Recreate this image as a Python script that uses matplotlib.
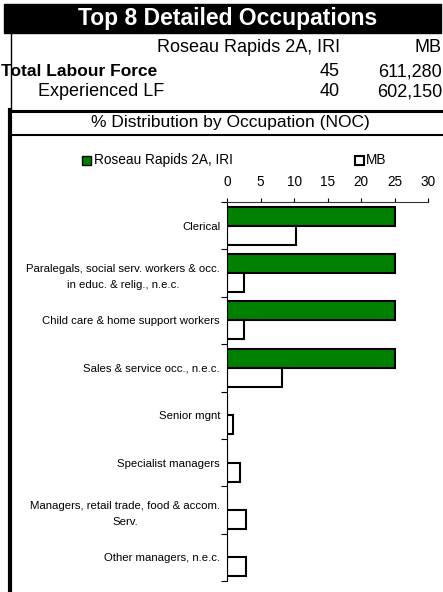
import matplotlib
matplotlib.use("Agg")
import matplotlib.pyplot as plt
from matplotlib.patches import Rectangle
from matplotlib.lines import Line2D

plt.rcParams['font.family'] = ['Liberation Sans', 'DejaVu Sans']

# data
occupations = ["Clerical",
               "Paralegals, social serv. workers & occ.\nin educ. & relig., n.e.c.",
               "Child care & home support workers",
               "Sales & service occ., n.e.c.",
               "Senior mgnt",
               "Specialist managers",
               "Managers, retail trade, food & accom.\nServ.",
               "Other managers, n.e.c."]
area_pct = [25, 25, 25, 25, 0, 0, 0, 0]
mb_pct = [10.3, 2.5, 2.6, 8.2, 0.9, 1.9, 2.8, 2.8]
area_name = "Roseau Rapids 2A, IRI"
region_name = "MB"
labour_force = ["45", "611,280"]
experienced = ["40", "602,150"]

W, H = 443, 592
fig = plt.figure(figsize=(W / 100, H / 100), dpi=100)

def fx(x):
    return x / W

def fy(y):
    return 1 - y / H

def hline(x0, x1, y, lw):
    fig.add_artist(Line2D([fx(x0), fx(x1)], [fy(y), fy(y)], color="black", lw=lw))

def vline(x, y0, y1, lw):
    fig.add_artist(Line2D([fx(x), fx(x)], [fy(y0), fy(y1)], color="black", lw=lw))

# header block
fig.add_artist(Rectangle((fx(4), fy(33)), fx(437), 29 / H, color="black"))
fig.text(fx(228), fy(19), "Top 8 Detailed Occupations", color="white",
         fontsize=16.5, fontweight="bold", ha="center", va="center")
vline(11, 33, 110, 1)
fig.text(fx(340), fy(48), area_name, fontsize=13, ha="right", va="center")
fig.text(fx(442), fy(48), region_name, fontsize=13, ha="right", va="center")
fig.text(fx(1), fy(72), "Total Labour Force", fontsize=12.5, fontweight="bold", ha="left", va="center")
fig.text(fx(340), fy(72), labour_force[0], fontsize=13, ha="right", va="center")
fig.text(fx(442), fy(72), labour_force[1], fontsize=13, ha="right", va="center")
fig.text(fx(38), fy(92), "Experienced LF", fontsize=13, ha="left", va="center")
fig.text(fx(340), fy(92), experienced[0], fontsize=13, ha="right", va="center")
fig.text(fx(442), fy(92), experienced[1], fontsize=13, ha="right", va="center")
hline(10, 443, 110.5, 2.2)
fig.text(fx(230), fy(122), "% Distribution by Occupation (NOC)", fontsize=12.5, ha="center", va="center")
hline(10, 443, 135, 1.5)
vline(10, 110, 592, 3)

# chart
ax = fig.add_axes([fx(227), fy(581), (428 - 227) / W, (581 - 202) / H])
n = len(occupations)
pos = [i + 0.5 for i in range(n)]
ax.barh([p - 0.2 for p in pos], area_pct, height=0.4, color="#008000",
        edgecolor="black", linewidth=1.5, label=area_name)
ax.barh([p + 0.2 for p in pos], mb_pct, height=0.4, color="white",
        edgecolor="black", linewidth=1.5, label=region_name)
ax.set_xlim(0, 30)
ax.set_ylim(n, 0)
ax.xaxis.tick_top()
ax.set_xticks(range(0, 31, 5))
ax.tick_params(axis="x", direction="out", length=3, labelsize=9.8, pad=6)
ax.set_yticks(range(n + 1))
ax.set_yticklabels([])
ax.set_yticks(pos, minor=True)
ax.set_yticklabels(occupations, minor=True, fontsize=8.2)
ax.tick_params(axis="y", which="major", direction="out", length=4)
ax.tick_params(axis="y", which="minor", length=0, pad=5)
for lab in ax.get_yticklabels(minor=True):
    lab.set_multialignment("center")
    lab.set_linespacing(1.7)
ax.spines["right"].set_visible(False)
ax.spines["bottom"].set_visible(False)
ax.spines["top"].set_color("#333333")
ax.spines["left"].set_color("black")

# legend
fig.add_artist(Rectangle((fx(82), fy(165)), 9 / W, 9 / H, facecolor="#008000", edgecolor="black", lw=1))
fig.text(fx(94), fy(160), area_name, fontsize=9.8, ha="left", va="center")
fig.add_artist(Rectangle((fx(355), fy(165)), 9 / W, 9 / H, facecolor="white", edgecolor="black", lw=1.5))
fig.text(fx(366), fy(160), region_name, fontsize=9.8, ha="left", va="center")

fig.savefig("out.png", dpi=100)
